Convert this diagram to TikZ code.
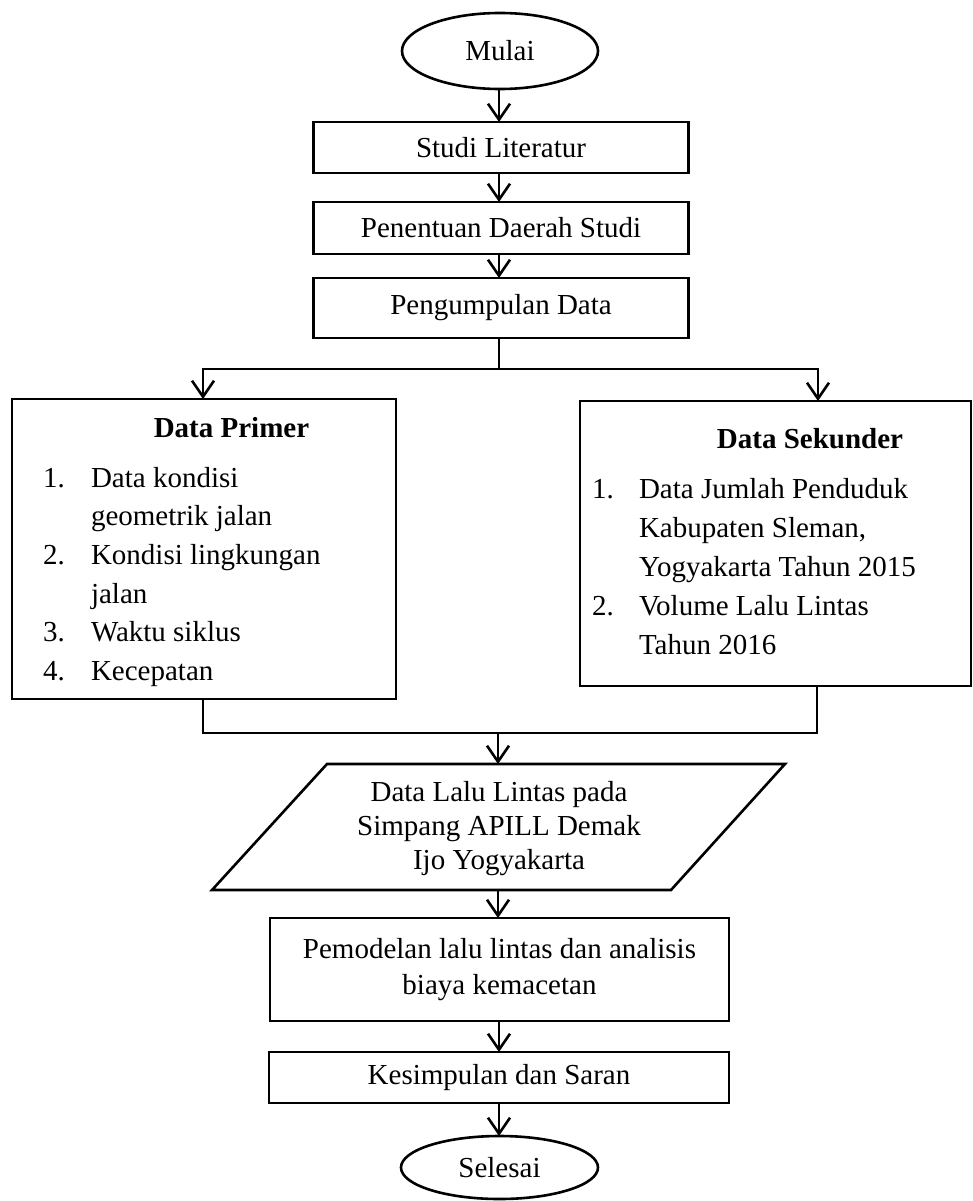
\documentclass[tikz,border=0pt]{standalone}
\usepackage{fontspec}
\setmainfont{Liberation Serif}
\usetikzlibrary{shapes.geometric,arrows.meta}
\begin{document}
\begin{tikzpicture}[x=1pt,y=-1pt,
  every node/.style={font=\fontsize{29}{36}\selectfont, inner sep=0pt, outer sep=0pt},
  box/.style={draw, line width=2.6pt, rectangle},
  terminal/.style={draw, line width=2.6pt, ellipse},
  wire/.style={line width=2.6pt},
  conn/.style={line width=2.6pt, -{Straight Barb[length=16pt,width=22pt]}},
  itm/.style={anchor=base west},
  ttl/.style={anchor=base, font=\fontsize{29}{36}\selectfont\bfseries}]
\useasboundingbox (0,0) rectangle (973,1201);

% main column
\node[terminal, minimum width=196, minimum height=76] (start) at (500,51) {Mulai};
\node[box, minimum width=375, minimum height=51] (lit) at (501,147.5) {Studi Literatur};
\node[box, minimum width=375, minimum height=52] (area) at (501,228) {Penentuan Daerah Studi};
\node[box, minimum width=375, minimum height=60] (collect) at (501,308) {Pengumpulan Data};

\draw[conn] (start.south -| 499,0) -- (lit.north -| 499,0);
\draw[conn] (lit.south -| 499,0) -- (area.north -| 499,0);
\draw[conn] (area.south -| 499,0) -- (collect.north -| 499,0);

% data boxes
\node[box, minimum width=384, minimum height=300] (primer) at (204,549) {};
\node[box, minimum width=391, minimum height=285] (sekunder) at (775.5,543.5) {};

\node[ttl] (ptitle) at (231.5,437) {Data Primer};
\node[itm] (pn1) at (43,487) {1.};
\node[itm] (p1a) at (91,487) {Data kondisi};
\node[itm] (p1b) at (91,525.7) {geometrik jalan};
\node[itm] (pn2) at (43,564.4) {2.};
\node[itm] (p2a) at (91,564.4) {Kondisi lingkungan};
\node[itm] (p2b) at (91,603) {jalan};
\node[itm] (pn3) at (43,641.8) {3.};
\node[itm] (p3) at (91,641.8) {Waktu siklus};
\node[itm] (pn4) at (43,680.5) {4.};
\node[itm] (p4) at (91,680.5) {Kecepatan};

\node[ttl] (stitle) at (810,448) {Data Sekunder};
\node[itm] (sn1) at (592,498) {1.};
\node[itm] (s1a) at (639,498) {Data Jumlah Penduduk};
\node[itm] (s1b) at (639,537) {Kabupaten Sleman,};
\node[itm] (s1c) at (639,576) {Yogyakarta Tahun 2015};
\node[itm] (sn2) at (592,615) {2.};
\node[itm] (s2a) at (639,615) {Volume Lalu Lintas};
\node[itm] (s2b) at (639,654) {Tahun 2016};

% split
\coordinate (split) at (499,369);
\coordinate (sl) at (203,369);
\coordinate (sr) at (818,369);
\draw[wire] (collect.south -| split) -- (split);
\draw[conn] (split) -- (sl) -- (sl |- primer.north);
\draw[conn] (split) -- (sr) -- (sr |- sekunder.north);

% merge
\coordinate (ml) at (203,733);
\coordinate (mr) at (817,733);
\coordinate (mc) at (498,733);
\draw[wire] (ml |- primer.south) -- (ml) -- (mr) -- (mr |- sekunder.south);

% parallelogram
\coordinate (pbl) at (212,890);
\coordinate (ptl) at (327,764);
\coordinate (ptr) at (785,764);
\coordinate (pbr) at (671,890);
\coordinate (ptop) at (498,764);
\coordinate (pbot) at (498,890);
\draw[wire] (pbl) -- (ptl) -- (ptr) -- (pbr) -- cycle;
\node[align=center, font=\fontsize{29}{34}\selectfont] (data) at (499,829) {Data Lalu Lintas pada\\Simpang APILL Demak\\Ijo Yogyakarta};
\draw[conn] (mc) -- (ptop);

% lower column
\node[box, minimum width=459, minimum height=103, align=center] (model) at (499.5,969.5) {Pemodelan lalu lintas dan analisis\\biaya kemacetan};
\node[box, minimum width=460, minimum height=51] (concl) at (499,1077.5) {Kesimpulan dan Saran};
\node[terminal, minimum width=197, minimum height=63] (finish) at (499.5,1167.5) {Selesai};

\draw[conn] (pbot) -- (model.north -| pbot);
\draw[conn] (model.south -| 499,0) -- (concl.north -| 499,0);
\draw[conn] (concl.south -| 499,0) -- (finish.north -| 499,0);
\end{tikzpicture}
\end{document}
